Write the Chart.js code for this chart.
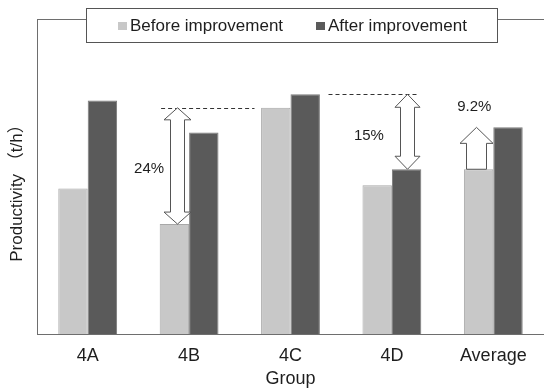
<!DOCTYPE html>
<html>
<head>
<meta charset="utf-8">
<script src="https://cdn.jsdelivr.net/npm/chart.js@4.4.1/dist/chart.umd.min.js"></script>
<style>
  html, body { margin: 0; padding: 0; background: #fff; }
  #wrap { width: 544px; height: 388px; }
</style>
</head>
<body>
<div id="wrap"><canvas id="c" width="544" height="388"></canvas></div>
<script>
// ---- data ----
const categories = ['4A', '4B', '4C', '4D', 'Average'];
const seriesLabels = ['Before improvement', 'After improvement'];
const beforeValues = [46.2, 34.9, 71.8, 47.2, 52.3];
const afterValues = [74.1, 64.0, 76.1, 52.3, 65.6];
const xTitle = 'Group';
const yTitle = 'Productivity （t/h）';
const changeLabels = ['24%', '15%', '9.2%'];

const FONT = "'Liberation Sans', Arial, 'Noto Sans CJK JP', sans-serif";
const TEXT = '#1e1e1e';
const FRAME = '#6e6e6e';
const BEFORE_FILL = '#c8c8c8', BEFORE_BORDER = '#a8a8a8';
const AFTER_FILL = '#5a5a5a', AFTER_BORDER = '#7a7a7a';

function arrow(ctx, cx, yTop, yBot, headW, shaftW, headLen, upHead, downHead) {
  const hw = headW / 2, sw = shaftW / 2;
  ctx.beginPath();
  if (upHead) {
    ctx.moveTo(cx, yTop);
    ctx.lineTo(cx + hw, yTop + headLen);
    ctx.lineTo(cx + sw, yTop + headLen);
  } else {
    ctx.moveTo(cx + sw, yTop);
  }
  if (downHead) {
    ctx.lineTo(cx + sw, yBot - headLen);
    ctx.lineTo(cx + hw, yBot - headLen);
    ctx.lineTo(cx, yBot);
    ctx.lineTo(cx - hw, yBot - headLen);
    ctx.lineTo(cx - sw, yBot - headLen);
  } else {
    ctx.lineTo(cx + sw, yBot);
    ctx.lineTo(cx - sw, yBot);
  }
  if (upHead) {
    ctx.lineTo(cx - sw, yTop + headLen);
    ctx.lineTo(cx - hw, yTop + headLen);
  } else {
    ctx.lineTo(cx - sw, yTop);
  }
  ctx.closePath();
  ctx.fillStyle = '#ffffff';
  ctx.fill();
  ctx.strokeStyle = '#555555';
  ctx.lineWidth = 1;
  ctx.stroke();
}

const decor = {
  id: 'decor',
  afterDraw(chart) {
    const ctx = chart.ctx;
    const xs = chart.scales.x, ys = chart.scales.y;
    const ca = chart.chartArea;
    const cx = i => xs.getPixelForValue(i);
    const py = v => ys.getPixelForValue(v);
    ctx.save();

    // frame top line and right extension of bottom line
    ctx.strokeStyle = FRAME;
    ctx.lineWidth = 1;
    ctx.beginPath();
    ctx.moveTo(ca.left, Math.round(ca.top) + 0.5);
    ctx.lineTo(chart.width, Math.round(ca.top) + 0.5);
    ctx.stroke();

    // dashed reference lines
    ctx.setLineDash([4, 3]);
    ctx.strokeStyle = '#333333';
    ctx.beginPath();
    let y1 = Math.round(py(beforeValues[2])) + 0.5;
    ctx.moveTo(cx(1) - 28, y1);
    ctx.lineTo(cx(2) - 36, y1);
    let y2 = Math.round(py(afterValues[2])) + 0.5;
    ctx.moveTo(cx(2) + 38, y2);
    ctx.lineTo(cx(3) + 27, y2);
    ctx.stroke();
    ctx.setLineDash([]);

    // arrows
    arrow(ctx, Math.round(cx(1) - 12.5) + 0.5, py(beforeValues[2]), py(beforeValues[1]), 27, 14, 12, true, true);
    arrow(ctx, Math.round(cx(3) + 15) + 0.5, py(afterValues[2]), py(afterValues[3]), 25, 14, 13, true, true);
    arrow(ctx, Math.round(cx(4) - 17.5) + 0.5, py(afterValues[4]), py(beforeValues[4]), 33, 20, 16, true, false);

    // percentage labels
    ctx.fillStyle = TEXT;
    ctx.font = '15px ' + FONT;
    ctx.textAlign = 'center';
    ctx.textBaseline = 'middle';
    ctx.fillText(changeLabels[0], cx(1) - 40, (py(beforeValues[2]) + py(beforeValues[1])) / 2 + 3);
    ctx.fillText(changeLabels[1], cx(3) - 23, (py(afterValues[2]) + py(afterValues[3])) / 2 + 4);
    ctx.fillText(changeLabels[2], cx(4) - 19, py(afterValues[4]) - 21);

    // legend box
    ctx.fillStyle = '#ffffff';
    ctx.fillRect(86, 8, 411, 34);
    ctx.strokeStyle = '#555555';
    ctx.strokeRect(86.5, 8.5, 411, 34);
    const items = [
      { x: 118, fill: BEFORE_FILL, border: BEFORE_BORDER, label: seriesLabels[0] },
      { x: 316, fill: AFTER_FILL, border: AFTER_BORDER, label: seriesLabels[1] }
    ];
    ctx.font = '17px ' + FONT;
    ctx.textAlign = 'left';
    ctx.textBaseline = 'middle';
    items.forEach(it => {
      ctx.fillStyle = it.fill;
      ctx.fillRect(it.x, 22, 9, 8);
      ctx.fillStyle = TEXT;
      ctx.fillText(it.label, it.x + 12, 26.5);
    });

    // y axis title
    ctx.save();
    ctx.translate(17, 189);
    ctx.rotate(-Math.PI / 2);
    ctx.textAlign = 'center';
    ctx.textBaseline = 'middle';
    ctx.font = '17px ' + FONT;
    ctx.fillStyle = TEXT;
    ctx.fillText(yTitle, 0, 0);
    ctx.restore();

    ctx.restore();
  }
};

new Chart(document.getElementById('c'), {
  type: 'bar',
  data: {
    labels: categories,
    datasets: [
      { label: seriesLabels[0], data: beforeValues, backgroundColor: BEFORE_FILL, borderColor: BEFORE_BORDER, borderWidth: 1 },
      { label: seriesLabels[1], data: afterValues, backgroundColor: AFTER_FILL, borderColor: AFTER_BORDER, borderWidth: 1 }
    ]
  },
  options: {
    responsive: false,
    devicePixelRatio: 1,
    animation: false,
    layout: { padding: { top: 19, right: 0, left: 0, bottom: 0 } },
    datasets: { bar: { categoryPercentage: 0.58, barPercentage: 1.0 } },
    plugins: { legend: { display: false }, tooltip: { enabled: false } },
    scales: {
      x: {
        grid: { display: false, drawTicks: false },
        border: { display: true, color: FRAME, width: 1 },
        ticks: { color: TEXT, font: { family: FONT, size: 18 }, padding: 11 },
        title: { display: true, text: xTitle, color: TEXT, font: { family: FONT, size: 18, lineHeight: 1 }, padding: { top: 0, bottom: 0 } },
        afterFit: s => { s.height = 54; }
      },
      y: {
        min: 0, max: 100,
        grid: { display: false, drawTicks: false },
        border: { display: true, color: FRAME, width: 1 },
        ticks: { display: false },
        afterFit: s => { s.width = 37; }
      }
    }
  },
  plugins: [decor]
});
</script>
</body>
</html>
